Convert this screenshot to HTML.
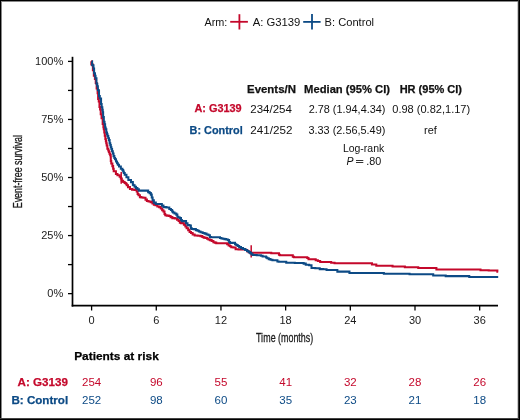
<!DOCTYPE html>
<html><head><meta charset="utf-8"><style>
html,body{margin:0;padding:0;background:#fff;}
svg{display:block;will-change:transform;}
</style></head><body>
<svg width="520" height="420" viewBox="0 0 520 420" style="font-family:'Liberation Sans',sans-serif">
<rect x="0" y="0" width="520" height="420" fill="#fff"/>
<g shape-rendering="crispEdges">
<rect x="0" y="0" width="520" height="1" fill="#000"/>
<rect x="0" y="1" width="520" height="1" fill="#888"/>
<rect x="0" y="0" width="1" height="420" fill="#000"/>
<rect x="1" y="1" width="1" height="418" fill="#888"/>
<rect x="519" y="0" width="1" height="420" fill="#000"/>
<rect x="518" y="0" width="1" height="420" fill="#333"/>
<rect x="517" y="2" width="1" height="416" fill="#ccc"/>
<rect x="0" y="419" width="520" height="1" fill="#000"/>
<rect x="0" y="418" width="519" height="1" fill="#444"/>
</g>
<!-- legend -->
<g stroke-width="1.8">
<line x1="230.2" y1="21.8" x2="247.9" y2="21.8" stroke="#c4082b"/>
<line x1="239.4" y1="14.2" x2="239.4" y2="29.5" stroke="#c4082b"/>
<line x1="303.2" y1="21.9" x2="320.6" y2="21.9" stroke="#0c4a85"/>
<line x1="312" y1="14.1" x2="312" y2="29.6" stroke="#0c4a85"/>
</g>
<!-- axes -->
<g stroke="#000" fill="none">
<line x1="72.5" y1="56.8" x2="72.5" y2="306.6" stroke-width="1.7"/>
<line x1="71.7" y1="305.7" x2="498" y2="305.7" stroke-width="1.8"/>
<g stroke-width="1.3"><line x1="68" y1="61.40" x2="72.5" y2="61.40"/><line x1="68" y1="90.43" x2="72.5" y2="90.43"/><line x1="68" y1="119.46" x2="72.5" y2="119.46"/><line x1="68" y1="148.49" x2="72.5" y2="148.49"/><line x1="68" y1="177.52" x2="72.5" y2="177.52"/><line x1="68" y1="206.55" x2="72.5" y2="206.55"/><line x1="68" y1="235.58" x2="72.5" y2="235.58"/><line x1="68" y1="264.61" x2="72.5" y2="264.61"/><line x1="68" y1="293.64" x2="72.5" y2="293.64"/><line x1="91.60" y1="305.7" x2="91.60" y2="310.5"/><line x1="156.28" y1="305.7" x2="156.28" y2="310.5"/><line x1="220.96" y1="305.7" x2="220.96" y2="310.5"/><line x1="285.64" y1="305.7" x2="285.64" y2="310.5"/><line x1="350.32" y1="305.7" x2="350.32" y2="310.5"/><line x1="415.00" y1="305.7" x2="415.00" y2="310.5"/><line x1="479.68" y1="305.7" x2="479.68" y2="310.5"/></g>
</g>
<g font-size="11" fill="#1a1a1a"><text x="63.2" y="65.10" text-anchor="end">100%</text><text x="63.2" y="123.16" text-anchor="end">75%</text><text x="63.2" y="181.22" text-anchor="end">50%</text><text x="63.2" y="239.28" text-anchor="end">25%</text><text x="63.2" y="297.34" text-anchor="end">0%</text><text x="91.60" y="324.2" text-anchor="middle">0</text><text x="156.28" y="324.2" text-anchor="middle">6</text><text x="220.96" y="324.2" text-anchor="middle">12</text><text x="285.64" y="324.2" text-anchor="middle">18</text><text x="350.32" y="324.2" text-anchor="middle">24</text><text x="415.00" y="324.2" text-anchor="middle">30</text><text x="479.68" y="324.2" text-anchor="middle">36</text></g>
<text id="xt" transform="translate(256.0,341.8) scale(0.685,1)" x="0" y="0" font-size="13" fill="#1a1a1a" stroke="#1a1a1a" stroke-width="0.3" textLength="83.5" lengthAdjust="spacing">T<tspan dx="-0.75">i</tspan><tspan dx="0.6">me (months)</tspan></text>
<text id="yt" transform="translate(22.2,208.2) rotate(-90) scale(0.685,1)" x="0" y="0" font-size="13" fill="#1a1a1a" stroke="#1a1a1a" stroke-width="0.3" textLength="106.86" lengthAdjust="spacing">Event-free survival</text>
<!-- curves -->
<g fill="none" stroke-width="2.05" stroke-linejoin="miter">
<polyline points="91.1,61.3 91.34,61.3 91.34,64.5 92.89,64.5 92.89,70.1 93.84,70.1 93.84,75.7 94.9,75.7 94.9,78.9 95.75,78.9 95.75,82.9 96.65,82.9 96.65,88.5 97.61,88.5 97.61,93.3 98.13,93.3 98.13,98.9 98.77,98.9 98.77,101.4 99.48,101.4 99.48,107 100.08,107 100.08,109.5 100.73,109.5 100.73,114.3 101.58,114.3 101.58,118.3 102.67,118.3 102.67,123.9 103.4,123.9 103.4,127.1 103.77,127.1 103.77,129.3 104.27,129.3 104.27,132.5 104.79,132.5 104.79,135.7 105.35,135.7 105.35,138.9 105.85,138.9 105.85,141.1 106.26,141.1 106.26,143.3 106.7,143.3 106.7,145.5 107.37,145.5 107.37,148.7 108.26,148.7 108.26,150.5 108.87,150.5 108.87,151.9 109.49,151.9 109.49,153.7 110.17,153.7 110.17,155.1 110.7,155.1 110.7,157.3 110.8,157.3 110.8,158.7 110.8,158.7 110.8,160.9 111.25,160.9 111.25,163.5 112.36,163.5 112.36,166.1 113.13,166.1 113.13,168.7 113.7,168.7 113.7,171.3 115.91,171.3 115.91,173.9 117.45,173.9 117.45,175.3 119,175.3 119.65,175.3 119.65,176.7 120.3,176.7 120.8,176.7 120.8,178.5 121.3,178.5 121.8,178.5 121.8,180.7 122.3,180.7 123.15,180.7 123.15,182 124,182 124.65,182 124.65,183 125.3,183 125.8,183 125.8,183.8 126.3,183.8 126.7,183.8 126.7,185.3 127.1,185.3 128,185.3 128,187.1 128.9,187.1 129.95,187.1 129.95,188.9 131,188.9 132.05,188.9 132.05,189.6 133.1,189.6 134.55,189.6 134.55,189.9 136,189.9 136.7,189.9 136.7,191.4 137.4,191.4 137.6,191.4 137.6,193.9 137.8,193.9 138.5,193.9 138.5,195.3 139.2,195.3 139.9,195.3 139.9,197.1 140.6,197.1 141.35,197.1 141.35,197.4 142.1,197.4 143.35,197.4 143.35,197.8 144.6,197.8 145.5,197.8 145.5,199.6 146.4,199.6 146.9,199.6 146.9,201 147.4,201 148.5,201 148.5,201.4 149.6,201.4 150.65,201.4 150.65,202.1 151.7,202.1 152.4,202.1 152.4,203.5 153.1,203.5 153.85,203.5 153.85,204.6 154.6,204.6 155.45,204.6 155.45,205.3 156.3,205.3 157.35,205.3 157.35,206.4 158.4,206.4 159.15,206.4 159.15,207.1 159.9,207.1 160.75,207.1 160.75,208.5 161.6,208.5 162.15,208.5 162.15,210.3 162.7,210.3 163.4,210.3 163.4,211.4 164.1,211.4 164.5,211.4 164.5,213.9 164.9,213.9 165.25,213.9 165.25,215.3 165.6,215.3 166.65,215.3 166.65,215.6 167.7,215.6 168.8,215.6 168.8,216 169.9,216 170.6,216 170.6,217.1 171.3,217.1 172.35,217.1 172.35,218.1 173.4,218.1 174.85,218.1 174.85,218.5 176.3,218.5 177,218.5 177,219.6 177.7,219.6 178.6,219.6 178.6,221 179.5,221 179.85,221 179.85,222.8 180.2,222.8 181.1,222.8 181.1,223.1 182,223.1 182.5,223.1 182.5,223.3 183,223.3 183.9,223.3 183.9,224.7 184.8,224.7 185.35,224.7 185.35,226.5 185.9,226.5 186.6,226.5 186.6,228.3 187.3,228.3 188.2,228.3 188.2,230.1 189.1,230.1 189.6,230.1 189.6,231.9 190.1,231.9 191,231.9 191,232.9 191.9,232.9 192.65,232.9 192.65,234.4 193.4,234.4 194.65,234.4 194.65,235.4 195.9,235.4 197.65,235.4 197.65,235.8 199.4,235.8 200.5,235.8 200.5,236.1 201.6,236.1 202.3,236.1 202.3,237 203,237 203.7,237 203.7,237.6 204.4,237.6 205.55,237.6 205.55,238 206.7,238 207.1,238 207.1,238.7 207.5,238.7 208.4,238.7 208.4,239.4 209.3,239.4 209.85,239.4 209.85,240.1 210.4,240.1 211.65,240.1 211.65,240.9 212.9,240.9 213.4,240.9 213.4,242.3 213.9,242.3 214.8,242.3 214.8,242.6 215.7,242.6 216.25,242.6 216.25,243.3 216.8,243.3 226.4,243.3 227.15,243.3 227.15,244.1 227.9,244.1 228.6,244.1 228.6,245.5 229.3,245.5 230,245.5 230,246.2 230.7,246.2 231.25,246.2 231.25,247.2 231.8,247.2 233.35,247.2 233.35,247.4 234.9,247.4 235.6,247.4 235.6,249.2 236.3,249.2 238.45,249.2 238.45,249.5 240.6,249.5 244.9,249.5 245.6,249.5 245.6,249.9 246.3,249.9 247.35,249.9 247.35,251.4 248.4,251.4 249.3,251.4 249.3,252.4 250.2,252.4 250.85,252.4 250.85,252.8 251.5,252.8 270.7,252.8 271.25,252.8 271.25,253.3 271.8,253.3 278.4,253.3 278.95,253.3 278.95,254.8 279.5,254.8 279.9,254.8 279.9,255.2 280.3,255.2 292.2,255.2 292.8,255.2 292.8,256.8 293.4,256.8 293.95,256.8 293.95,257.3 294.5,257.3 306.6,257.3 307.25,257.3 307.25,258 307.9,258 308.5,258 308.5,259.2 309.1,259.2 311.85,259.2 311.85,259.3 314.6,259.3 315.7,259.3 315.7,260.3 316.8,260.3 317.85,260.3 317.85,261 318.9,261 320.15,261 320.15,261.9 321.4,261.9 329.9,261.9 331.15,261.9 331.15,262.7 332.4,262.7 334.55,262.7 334.55,263.3 336.7,263.3 371.2,263.3 371.95,263.3 371.95,264.5 372.7,264.5 375.8,264.5 376.3,264.5 376.3,265.8 376.8,265.8 391.9,265.8 392.55,265.8 392.55,266.5 393.2,266.5 404.2,266.5 404.85,266.5 404.85,267.3 405.5,267.3 417.8,267.3 418.25,267.3 418.25,268 418.7,268 436,268 436.4,268 436.4,269.5 436.8,269.5 480.1,269.5 480.5,269.5 480.5,270.2 480.9,270.2 488.7,270.2 488.7,270.4 496.5,270.4 497.35,270.4 497.35,271.8 498.2,271.8" stroke="#c4082b"/>
<line x1="121.2" y1="172" x2="121.2" y2="183.8" stroke="#c4082b" stroke-width="1.5"/>
<line x1="251.2" y1="245.3" x2="251.2" y2="257.4" stroke="#c4082b" stroke-width="1.5"/>
<polyline points="91.9,61.2 92.11,61.2 92.11,65.2 93.48,65.2 93.48,68.4 94.09,68.4 94.09,73.2 94.95,73.2 94.95,75.7 95.53,75.7 95.53,78.2 96.47,78.2 96.47,83.8 97.26,83.8 97.26,86.3 97.87,86.3 97.87,90.3 99.01,90.3 99.01,95.9 99.78,95.9 99.78,98.4 101.06,98.4 101.06,104 101.65,104 101.65,107.2 102.32,107.2 102.32,109.7 102.73,109.7 102.73,112.2 103.12,112.2 103.12,117 103.83,117 103.83,121.8 104.53,121.8 104.53,124.3 105.1,124.3 105.1,127.5 105.66,127.5 105.66,129.3 106.32,129.3 106.32,132.5 107.02,132.5 107.02,134.3 107.54,134.3 107.54,136.1 108.26,136.1 108.26,138.3 109,138.3 109,140.1 109.62,140.1 109.62,143.3 110.26,143.3 110.26,145.1 110.81,145.1 110.81,147.3 111.42,147.3 111.42,149.1 112.07,149.1 112.07,151.3 112.83,151.3 112.83,153.5 113.53,153.5 113.53,156.1 114.36,156.1 114.36,157.9 115.06,157.9 115.06,159.3 116.02,159.3 116.02,161.5 117.03,161.5 117.03,163.3 117.85,163.3 117.85,164.7 119.01,164.7 119.01,166.5 120.82,166.5 120.82,168.7 122.41,168.7 122.41,170.1 123.21,170.1 123.21,171.5 123.79,171.5 123.79,172.9 124.72,172.9 124.72,174.7 126.44,174.7 126.44,177.3 128.36,177.3 128.36,179.9 131,179.9 131,182.1 132.86,182.1 132.86,184.7 133.38,184.7 133.38,185.3 133.9,185.3 134.6,185.3 134.6,186.7 135.3,186.7 136,186.7 136,188.1 136.7,188.1 137.4,188.1 137.4,189.2 138.1,189.2 138.85,189.2 138.85,190.6 139.6,190.6 147.4,190.6 148.15,190.6 148.15,192.1 148.9,192.1 149.6,192.1 149.6,193.1 150.3,193.1 150.85,193.1 150.85,194.6 151.4,194.6 151.75,194.6 151.75,197.4 152.1,197.4 152.6,197.4 152.6,200.3 153.1,200.3 153.85,200.3 153.85,202.6 154.6,202.6 155.8,202.6 155.8,203.9 157,203.9 161.3,203.9 161.85,203.9 161.85,205.6 162.4,205.6 163.45,205.6 163.45,207.1 164.5,207.1 166.45,207.1 166.45,207.4 168.4,207.4 169.3,207.4 169.3,208.9 170.2,208.9 170.9,208.9 170.9,209.9 171.6,209.9 172.15,209.9 172.15,211.4 172.7,211.4 173.05,211.4 173.05,212.4 173.4,212.4 174.5,212.4 174.5,213.5 175.6,213.5 176.3,213.5 176.3,214.6 177,214.6 177.35,214.6 177.35,216.7 177.7,216.7 178.4,216.7 178.4,217.4 179.1,217.4 179.85,217.4 179.85,218.1 180.6,218.1 181,218.1 181,219.9 181.4,219.9 181.85,219.9 181.85,221.1 182.3,221.1 185.5,221.1 186.05,221.1 186.05,223.3 186.6,223.3 187.5,223.3 187.5,225.1 188.4,225.1 189.45,225.1 189.45,225.4 190.5,225.4 190.85,225.4 190.85,228.3 191.2,228.3 191.75,228.3 191.75,229 192.3,229 193.7,229 193.7,229.1 195.1,229.1 195.85,229.1 195.85,230.1 196.6,230.1 197.5,230.1 197.5,230.8 198.4,230.8 198.9,230.8 198.9,231.5 199.4,231.5 200.5,231.5 200.5,232.2 201.6,232.2 202.65,232.2 202.65,232.9 203.7,232.9 204.6,232.9 204.6,233.6 205.5,233.6 206.5,233.6 206.5,234.5 207.5,234.5 208.45,234.5 208.45,235.2 209.4,235.2 209.9,235.2 209.9,236.9 210.4,236.9 210.9,236.9 210.9,237.3 211.4,237.3 219.3,237.3 220,237.3 220,238 220.7,238 221.4,238 221.4,238.4 222.1,238.4 222.85,238.4 222.85,238.7 223.6,238.7 224.5,238.7 224.5,239.1 225.4,239.1 226.25,239.1 226.25,239.4 227.1,239.4 227.85,239.4 227.85,240.1 228.6,240.1 229.1,240.1 229.1,241.9 229.6,241.9 230.15,241.9 230.15,242.9 230.7,242.9 232.6,242.9 232.6,242.8 234.5,242.8 235.05,242.8 235.05,244.2 235.6,244.2 236.3,244.2 236.3,244.9 237,244.9 237.7,244.9 237.7,246 238.4,246 239.15,246 239.15,247.1 239.9,247.1 240.95,247.1 240.95,248.1 242,248.1 243.05,248.1 243.05,248.9 244.1,248.9 245.2,248.9 245.2,249.9 246.3,249.9 247,249.9 247,251 247.7,251 248.6,251 248.6,252.1 249.5,252.1 250.2,252.1 250.2,253.1 250.9,253.1 251.45,253.1 251.45,254.2 252,254.2 252.7,254.2 252.7,254.9 253.4,254.9 256.7,254.9 256.7,255.3 260,255.3 260.9,255.3 260.9,255.8 261.8,255.8 262.6,255.8 262.6,256.4 263.4,256.4 265.7,256.4 266.1,256.4 266.1,257.5 266.5,257.5 267.25,257.5 267.25,258.3 268,258.3 268.75,258.3 268.75,259.1 269.5,259.1 270.5,259.1 270.5,259.8 271.5,259.8 272.45,259.8 272.45,260.2 273.4,260.2 276.8,260.2 277.4,260.2 277.4,261.4 278,261.4 278.75,261.4 278.75,261.8 279.5,261.8 285.7,261.8 286.25,261.8 286.25,262.8 286.8,262.8 294.8,262.8 294.8,262.9 302.8,262.9 303.65,262.9 303.65,263.6 304.5,263.6 305.75,263.6 305.75,264.8 307,264.8 309.15,264.8 309.15,265.3 311.3,265.3 311.5,265.3 311.5,268 311.7,268 315.3,268 315.3,268.2 318.9,268.2 319.75,268.2 319.75,269.1 320.6,269.1 323.15,269.1 323.15,269.3 325.7,269.3 326.55,269.3 326.55,269.9 327.4,269.9 336.7,269.9 337.35,269.9 337.35,271.6 338,271.6 348.8,271.6 349.45,271.6 349.45,273 350.1,273 382.7,273 383.85,273 383.85,273.8 385,273.8 409,273.8 409.55,273.8 409.55,274.3 410.1,274.3 432.5,274.3 433.2,274.3 433.2,275.4 433.9,275.4 445.4,275.4 445.7,275.4 445.7,276.1 446,276.1 468.8,276.1 469.25,276.1 469.25,277 469.7,277 498.2,277" stroke="#0c4a85"/>
</g>
<!-- texts -->
<text id="arm" x="204.48" y="25.9" font-size="11" fill="#111" textLength="22.91" lengthAdjust="spacingAndGlyphs">Arm:</text>
<text id="legA" x="252.66" y="25.9" font-size="11" fill="#111" textLength="47.75" lengthAdjust="spacingAndGlyphs">A: G3139</text>
<text id="legB" x="324.58" y="25.9" font-size="11" fill="#111" textLength="49.48" lengthAdjust="spacingAndGlyphs">B: Control</text>
<text id="hEv" x="247.04" y="92.7" font-size="11" fill="#111" font-weight="bold" stroke="#111" stroke-width="0.25" textLength="48.93" lengthAdjust="spacingAndGlyphs">Events/N</text>
<text id="hMed" x="304.10" y="92.7" font-size="11" fill="#111" font-weight="bold" stroke="#111" stroke-width="0.25" textLength="85.97" lengthAdjust="spacingAndGlyphs">Median (95% CI)</text>
<text id="hHR" x="399.65" y="92.7" font-size="11" fill="#111" font-weight="bold" stroke="#111" stroke-width="0.25" textLength="62.38" lengthAdjust="spacingAndGlyphs">HR (95% CI)</text>
<text id="tA" x="241.69" y="112.3" font-size="11" fill="#c4082b" font-weight="bold" stroke="#c4082b" stroke-width="0.25" text-anchor="end" textLength="47.24" lengthAdjust="spacingAndGlyphs">A: G3139</text>
<text id="tB" x="242.72" y="133.8" font-size="11" fill="#0c4a85" font-weight="bold" stroke="#0c4a85" stroke-width="0.25" text-anchor="end" textLength="53.10" lengthAdjust="spacingAndGlyphs">B: Control</text>
<text id="eA" x="250.30" y="112.7" font-size="11" fill="#111" textLength="41.58" lengthAdjust="spacingAndGlyphs">234/254</text>
<text id="eB" x="250.26" y="134.2" font-size="11" fill="#111" textLength="42.11" lengthAdjust="spacingAndGlyphs">241/252</text>
<text id="mA" x="308.67" y="112.7" font-size="11" fill="#111" textLength="76.76" lengthAdjust="spacingAndGlyphs">2.78 (1.94,4.34)</text>
<text id="mB" x="308.46" y="134.2" font-size="11" fill="#111" textLength="76.88" lengthAdjust="spacingAndGlyphs">3.33 (2.56,5.49)</text>
<text id="hrA" x="392.27" y="112.7" font-size="11" fill="#111" textLength="77.88" lengthAdjust="spacingAndGlyphs">0.98 (0.82,1.17)</text>
<text id="hrB" x="424.08" y="134.2" font-size="11" fill="#111" textLength="12.73" lengthAdjust="spacingAndGlyphs">ref</text>
<text id="lr" x="342.88" y="151.9" font-size="10.5" fill="#111" textLength="41.37" lengthAdjust="spacingAndGlyphs">Log-rank</text>
<text id="par" x="74.18" y="360" font-size="11.8" fill="#000" font-weight="bold" stroke="#000" stroke-width="0.25" textLength="84.61" lengthAdjust="spacingAndGlyphs">Patients at risk</text>
<text id="rA" x="67.89" y="385.6" font-size="11.6" fill="#c4082b" font-weight="bold" stroke="#c4082b" stroke-width="0.25" text-anchor="end" textLength="50.34" lengthAdjust="spacingAndGlyphs">A: G3139</text>
<text id="rB" x="68.16" y="404.0" font-size="11.6" fill="#0c4a85" font-weight="bold" stroke="#0c4a85" stroke-width="0.25" text-anchor="end" textLength="56.71" lengthAdjust="spacingAndGlyphs">B: Control</text>
<g font-size="10.5" fill="#111">
<text x="346.4" y="164.5" font-style="italic">P</text><text x="366.2" y="164.5" font-size="11.2" textLength="15" lengthAdjust="spacingAndGlyphs">.80</text>
</g>
<g stroke="#333" stroke-width="1"><line x1="356" y1="160.5" x2="363.3" y2="160.5"/><line x1="356" y1="162.5" x2="363.3" y2="162.5"/></g>
<!-- at risk -->
<g font-size="11.5"><text x="91.60" y="385.7" text-anchor="middle" fill="#c4082b">254</text><text x="91.60" y="404.1" text-anchor="middle" fill="#0c4a85">252</text><text x="156.28" y="385.7" text-anchor="middle" fill="#c4082b">96</text><text x="156.28" y="404.1" text-anchor="middle" fill="#0c4a85">98</text><text x="220.96" y="385.7" text-anchor="middle" fill="#c4082b">55</text><text x="220.96" y="404.1" text-anchor="middle" fill="#0c4a85">60</text><text x="285.64" y="385.7" text-anchor="middle" fill="#c4082b">41</text><text x="285.64" y="404.1" text-anchor="middle" fill="#0c4a85">35</text><text x="350.32" y="385.7" text-anchor="middle" fill="#c4082b">32</text><text x="350.32" y="404.1" text-anchor="middle" fill="#0c4a85">23</text><text x="415.00" y="385.7" text-anchor="middle" fill="#c4082b">28</text><text x="415.00" y="404.1" text-anchor="middle" fill="#0c4a85">21</text><text x="479.68" y="385.7" text-anchor="middle" fill="#c4082b">26</text><text x="479.68" y="404.1" text-anchor="middle" fill="#0c4a85">18</text></g>
</svg>
</body></html>
